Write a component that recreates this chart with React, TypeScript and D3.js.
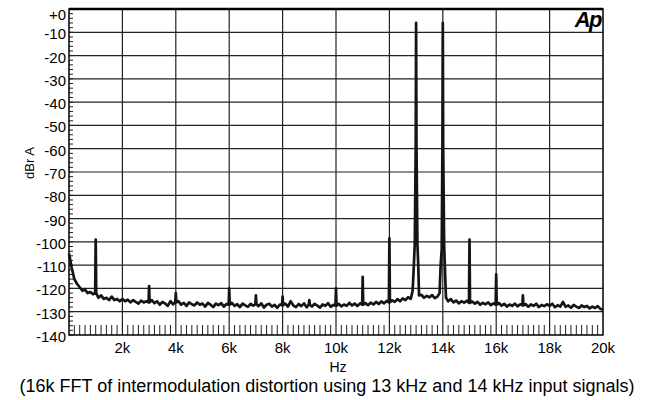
import React from 'react'
import * as d3 from 'd3'

// FFT noise floor, one value every 100 Hz from 0 Hz to 20 kHz (dBr A)
const FREQ_STEP = 100
const floorDb = [
  -105, -111, -116, -118, -119.5, -121, -120.5, -122, -121.5, -122.5,
  -122, -124, -123, -124.5, -124, -125, -123.5, -125, -124.5, -125.5,
  -124.5, -125.5, -124.8, -126, -125, -125.8, -126.5, -125.2, -126, -125.5,
  -126, -125, -126.3, -125.5, -127, -125.8, -126.5, -127.5, -125.5, -126.8,
  -126, -125.5, -127, -126.2, -127.5, -126, -126.8, -127.3, -126, -127,
  -126.5, -127.8, -126.2, -127, -128, -126.5, -127.2, -126.3, -127.8, -126.7,
  -127, -126.2, -127.5, -126.8, -128, -126.5, -127.3, -127.9, -126.6, -127.4,
  -126.8, -127.6, -126.4, -128.2, -127, -126.6, -127.8, -127.1, -128.3, -126.9,
  -127.2, -126.5, -127.8, -125.5, -127.3, -128, -126.7, -127.6, -126.4, -128.1,
  -127, -127.8, -126.6, -127.4, -128.2, -126.9, -127.5, -126.3, -127.9, -127.1,
  -127.4, -126.6, -127.7, -126.9, -127.5, -126.2, -127.3, -126.5, -127.6, -126.4,
  -127, -126.3, -127.2, -126.1, -126.9, -125.8, -126.7, -125.6, -126.4, -125.4,
  -126, -125.1, -125.8, -124.6, -125.5, -124.3, -125, -123.8, -124.5, -122.5,
  -123, -123.5, -122.8, -124, -123.2, -123.8, -122.9, -124.2, -123.5, -122.6,
  -123.5, -124.8, -125.5, -124.6, -126, -125.2, -126.4, -125.5, -126.1, -125.3,
  -126.2, -125.6, -126.5, -125.8, -127, -126.2, -126.8, -126, -127.2, -126.4,
  -127, -126.3, -127.4, -126.6, -127.8, -126.9, -127.5, -126.5, -127.7, -126.8,
  -127.3, -126.7, -127.9, -126.9, -127.5, -126.6, -128, -127.1, -127.6, -126.8,
  -127.5, -126.6, -128.1, -127.2, -127.8, -125.8, -127.9, -127.3, -128.3, -127.1,
  -127.8, -128.4, -127.3, -128, -127.5, -128.6, -127.8, -128.4, -127.6, -128.8,
  -129,
]

// narrow distortion products: frequency (Hz) and peak level (dBr A)
const spikes = [
  { f: 1000, db: -99 },
  { f: 3000, db: -119 },
  { f: 4000, db: -122 },
  { f: 6000, db: -120 },
  { f: 7000, db: -123 },
  { f: 8000, db: -123.5 },
  { f: 9000, db: -125 },
  { f: 10000, db: -120 },
  { f: 11000, db: -115 },
  { f: 12000, db: -98.5 },
  { f: 15000, db: -99 },
  { f: 16000, db: -114 },
  { f: 17000, db: -123 },
]

// the two input tones with their skirts, [Hz, dBr A]
const tone13k: [number, number][] = [
  [12870, -121], [12900, -114], [12950, -101], [12985, -60], [13000, -6],
  [13015, -60], [13050, -101], [13080, -110], [13110, -123],
]
const tone14k: [number, number][] = [
  [13880, -122], [13920, -110], [13960, -103], [13985, -60], [14000, -6],
  [14015, -60], [14050, -101], [14090, -115], [14120, -124],
]

const yTickValues = [0, -10, -20, -30, -40, -50, -60, -70, -80, -90, -100, -110, -120, -130, -140]
const yTickLabels = ['+0', '-10', '-20', '-30', '-40', '-50', '-60', '-70', '-80', '-90', '-100', '-110', '-120', '-130', '-140']
const xTickValues = [2000, 4000, 6000, 8000, 10000, 12000, 14000, 16000, 18000, 20000]
const xTickLabels = ['2k', '4k', '6k', '8k', '10k', '12k', '14k', '16k', '18k', '20k']

const W = 663
const H = 400
const left = 69
const right = 603
const top = 9
const bottom = 335
const FONT = '"Liberation Sans", Arial, Helvetica, sans-serif'

function buildSeries(): [number, number][] {
  const pts: [number, number][] = []
  const skirts = [tone13k, tone14k]
  floorDb.forEach((db, i) => {
    const f = i * FREQ_STEP
    if (skirts.some(s => f > s[0][0] && f < s[s.length - 1][0])) return
    const sp = spikes.find(s => s.f === f)
    if (sp) {
      pts.push([f - 20, db], [f, sp.db], [f + 20, db])
    } else {
      pts.push([f, db])
    }
  })
  skirts.forEach(s => pts.push(...s))
  return pts.sort((a, b) => a[0] - b[0])
}

export default function App() {
  const x = d3.scaleLinear().domain([0, 20000]).range([left, right])
  const y = d3.scaleLinear().domain([-140, 0]).range([bottom, top])
  const series = buildSeries()
  const line = d3.line<[number, number]>().x(d => x(d[0])).y(d => y(d[1]))

  const minorY = d3.range(0, -141, -2)
  const minorX = d3.range(200, 20000, 200).filter(f => f % 2000 !== 0)

  return (
    <div style={{ position: 'absolute', left: 0, top: 0 }}>
      <svg width={W} height={H} style={{ display: 'block', background: '#fff' }}>
        {/* grid */}
        <g stroke="#222" strokeWidth={1.2}>
          {yTickValues.slice(1, -1).map(v => (
            <line key={'gy' + v} x1={left} x2={right} y1={y(v)} y2={y(v)} />
          ))}
          {xTickValues.slice(0, -1).map(v => (
            <line key={'gx' + v} x1={x(v)} x2={x(v)} y1={top} y2={bottom} />
          ))}
        </g>
        {/* minor ticks */}
        <g stroke="#222" strokeWidth={1}>
          {minorY.map(v => (
            <line key={'my' + v} x1={left} x2={left + 4} y1={y(v)} y2={y(v)} />
          ))}
          {minorX.map(v => (
            <line key={'mx' + v} x1={x(v)} x2={x(v)} y1={bottom - 10} y2={bottom} />
          ))}
        </g>
        {/* frame */}
        <rect x={left} y={top} width={right - left} height={bottom - top} fill="none" stroke="#000" strokeWidth={1.5} />
        <line x1={left} x2={right} y1={top} y2={top} stroke="#000" strokeWidth={2.5} />

        {/* FFT trace */}
        <path d={line(series) ?? ''} fill="none" stroke="#141414" strokeWidth={2.7} strokeLinejoin="round" />

        {/* y axis labels */}
        <g fontFamily={FONT} fontSize={15} fill="#000" textAnchor="end">
          {yTickValues.map((v, i) => (
            <text key={'ly' + v} x={left - 3} y={y(v) + (i === 0 ? 4 : 0) + 1.5} dominantBaseline="central">
              {yTickLabels[i]}
            </text>
          ))}
        </g>
        {/* x axis labels */}
        <g fontFamily={FONT} fontSize={15} fill="#000" textAnchor="middle">
          {xTickValues.map((v, i) => (
            <text key={'lx' + v} x={x(v)} y={353}>
              {xTickLabels[i]}
            </text>
          ))}
        </g>
        <text x={(left + right) / 2 + 2} y={372} fontFamily={FONT} fontSize={14} textAnchor="middle">Hz</text>
        <text
          transform={`translate(34,163) rotate(-90)`}
          fontFamily={FONT}
          fontSize={13}
          textAnchor="middle"
        >
          dBr A
        </text>
        <text x={327} y={392} fontFamily={FONT} fontSize={18} textAnchor="middle">
          (16k FFT of intermodulation distortion using 13 kHz and 14 kHz input signals)
        </text>
        {/* Ap logo */}
        <text
          x={601}
          y={27}
          fontFamily={FONT}
          fontSize={22}
          fontWeight="bold"
          fontStyle="italic"
          textAnchor="end"
          letterSpacing={-1.5}
        >
          Ap
        </text>
      </svg>
    </div>
  )
}
